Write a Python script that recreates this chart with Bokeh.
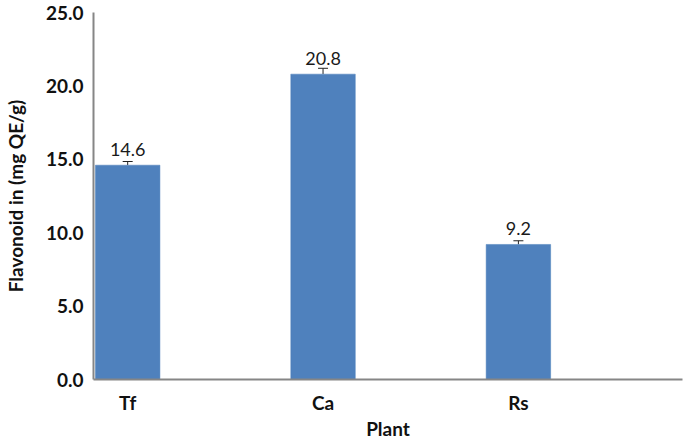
from bokeh.plotting import figure
from bokeh.models import Range1d, FixedTicker, ColumnDataSource, Whisker, TeeHead, LabelSet
from bokeh.core.properties import value
from bokeh.embed import file_html
from bokeh.resources import INLINE

categories = ["Tf", "Ca", "Rs"]
values = [14.6, 20.8, 9.2]
errors = [0.25, 0.4, 0.25]
labels = ["14.6", "20.8", "9.2"]
y_ticks = [0, 5, 10, 15, 20, 25]

xs = list(range(len(categories)))
src = ColumnDataSource(dict(
    x=xs, top=values, upper=[v + e for v, e in zip(values, errors)], lab=labels,
))

p = figure(width=685, height=442, output_backend="svg", toolbar_location=None,
           x_range=Range1d(-0.175, 2.84), y_range=Range1d(0, 25),
           min_border_left=90, min_border_right=3, min_border_top=12, min_border_bottom=60)
p.outline_line_color = None
p.xgrid.visible = False
p.ygrid.visible = False

p.vbar(x="x", top="top", width=0.33, bottom=0, source=src,
       fill_color="#4F81BD", line_color="#4A7EBB", line_width=0.5)

w = Whisker(base="x", upper="upper", lower="top", source=src,
            line_color="#222222", line_width=1,
            upper_head=TeeHead(size=10, line_color="#222222", line_width=1),
            lower_head=None)
p.add_layout(w)

lbl = LabelSet(x="x", y="top", text="lab", source=src, text_align="center",
               text_baseline="bottom", y_offset=9, text_font=value("Lato"),
               text_font_size=value("18px"), text_color="#1a1a1a")
p.add_layout(lbl)

for ax in (p.xaxis[0], p.yaxis[0]):
    ax.axis_line_color = "#868686"
    ax.axis_line_width = 2
    ax.major_tick_line_color = None
    ax.minor_tick_line_color = None
    ax.major_tick_in = 0
    ax.major_tick_out = 0
    ax.minor_tick_in = 0
    ax.minor_tick_out = 0
    ax.major_label_text_font = "Lato"
    ax.major_label_text_font_style = "bold"
    ax.major_label_text_font_size = "19px"
    ax.major_label_text_color = "#111111"
    ax.axis_label_text_font = "Lato"
    ax.axis_label_text_font_style = "bold"
    ax.axis_label_text_font_size = "19px"
    ax.axis_label_text_color = "#111111"

p.xaxis.ticker = FixedTicker(ticks=xs)
p.xaxis.major_label_overrides = {i: c for i, c in zip(xs, categories)}
p.xaxis.major_label_standoff = 11
p.xaxis.axis_label = "Plant"
p.xaxis.axis_label_standoff = 0

p.yaxis.ticker = FixedTicker(ticks=y_ticks)
p.yaxis.major_label_overrides = {t: f"{t:.1f}" for t in y_ticks}
p.yaxis.major_label_standoff = 10
p.yaxis.axis_label = "Flavonoid in (mg QE/g)"
p.yaxis.axis_label_standoff = 16

open("out.html", "w").write(file_html(p, INLINE))
